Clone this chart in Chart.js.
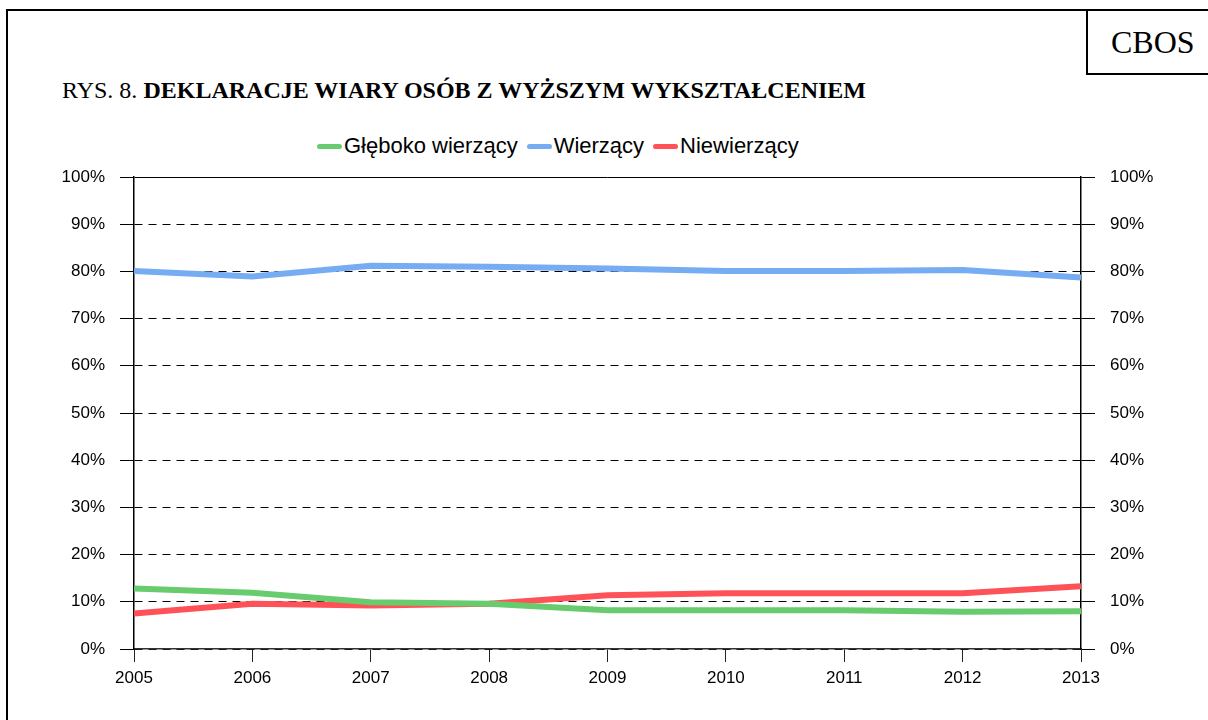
<!DOCTYPE html>
<html lang="pl">
<head>
<meta charset="utf-8">
<title>Deklaracje wiary osób z wyższym wykształceniem</title>
<script src="https://cdn.jsdelivr.net/npm/chart.js@4.4.1/dist/chart.umd.min.js"></script>
<style>
  html, body { margin: 0; padding: 0; background: #fff; }
  #page { position: relative; width: 1208px; height: 720px; overflow: hidden; }
  #frame {
    position: absolute; left: 6px; top: 9px; width: 1400px; height: 900px;
    border: 2px solid #000;
  }
  #cbos {
    position: absolute; left: 1086px; top: 9px; width: 200px; height: 66px;
    border-left: 2px solid #000; border-bottom: 2px solid #000;
    font: 32px "Liberation Serif", "Times New Roman", serif;
    line-height: 66px; padding-left: 23px; box-sizing: border-box;
  }
  #title {
    position: absolute; left: 62px; top: 77px;
    font: 24px "Liberation Serif", "Times New Roman", serif; color: #000;
    white-space: nowrap;
  }
  #title b { font-weight: bold; }
  #legend {
    position: absolute; left: 317px; top: 133px; display: flex; align-items: center;
    font: 22px "Liberation Sans", Arial, sans-serif; color: #000; white-space: nowrap;
  }
  #legend .item { display: flex; align-items: center; margin-right: 9px; }
  #legend .swatch { width: 25px; height: 5px; border-radius: 3px; margin-right: 2px; }
  canvas { position: absolute; left: 0; top: 0; }
</style>
</head>
<body>
<div id="page">
  <div id="frame"></div>
  <div id="cbos">CBOS</div>
  <div id="title">RYS. 8. <b>DEKLARACJE WIARY OSÓB Z WYŻSZYM WYKSZTAŁCENIEM</b></div>
  <div id="legend"></div>
  <canvas id="chart" width="1208" height="720"></canvas>
</div>
<script>
// Years on the x axis.
const years = ["2005", "2006", "2007", "2008", "2009", "2010", "2011", "2012", "2013"];

// Percent values.
const glebokoWierzacy = [12.8, 11.9, 9.9, 9.6, 8.2, 8.2, 8.2, 7.9, 8.0];
const wierzacy = [80.1, 78.9, 81.2, 81.0, 80.6, 80.1, 80.1, 80.3, 78.7];
const niewierzacy = [7.5, 9.6, 9.2, 9.6, 11.4, 11.8, 11.8, 11.8, 13.3];

const seriesNames = ["Głęboko wierzący", "Wierzący", "Niewierzący"];
const seriesColors = ["#68cc6e", "#75acf2", "#ff5258"];

// Axis range / ticks.
const yMin = 0;
const yMax = 100;
const yStep = 10;

const AXIS_FONT = { family: "'Liberation Sans', Arial, sans-serif", size: 17 };

// HTML legend, built from the series names/colors.
const legendEl = document.getElementById("legend");
seriesNames.forEach((name, i) => {
  const item = document.createElement("div");
  item.className = "item";
  const sw = document.createElement("span");
  sw.className = "swatch";
  sw.style.background = seriesColors[i];
  const txt = document.createElement("span");
  txt.textContent = name;
  item.appendChild(sw);
  item.appendChild(txt);
  legendEl.appendChild(item);
});

function lineDataset(i, data) {
  return {
    label: seriesNames[i],
    data,
    borderColor: seriesColors[i],
    backgroundColor: seriesColors[i],
    borderWidth: 6,
    pointRadius: 0,
    tension: 0,
    fill: false,
    yAxisID: "y",
  };
}

function yAxis(position, width) {
  const left = position === "left";
  return {
    position,
    min: yMin,
    max: yMax,
    afterFit: (s) => { s.width = width; },
    ticks: {
      stepSize: yStep,
      color: "#000",
      font: AXIS_FONT,
      padding: 15,
      callback: (v) => v + "%",
    },
    grid: {
      drawOnChartArea: left,
      color: "#000",
      lineWidth: 1,
      drawTicks: true,
      tickLength: 14,
      tickColor: "#000",
      tickWidth: 1,
    },
    border: {
      display: true,
      color: "#000",
      width: 1.5,
      // grid lines dashed, the axis line itself and the 100% line solid
      dash: (c) => (c.tick && c.tick.value !== yMax ? [8, 6] : []),
    },
  };
}

new Chart(document.getElementById("chart"), {
  type: "line",
  data: {
    labels: years,
    datasets: [
      lineDataset(0, glebokoWierzacy),
      lineDataset(1, wierzacy),
      lineDataset(2, niewierzacy),
    ],
  },
  options: {
    responsive: false,
    animation: false,
    layout: { padding: { top: 177, left: 0, right: 0, bottom: 0 } },
    plugins: {
      legend: { display: false },
      tooltip: { enabled: false },
    },
    scales: {
      x: {
        offset: false,
        afterFit: (s) => { s.height = 71; },
        ticks: {
          color: "#000",
          font: AXIS_FONT,
          padding: 6,
          maxRotation: 0,
          autoSkip: false,
        },
        grid: {
          drawOnChartArea: false,
          drawTicks: true,
          tickLength: 13,
          tickColor: "#222",
          tickWidth: 1,
        },
        border: { display: true, color: "#333", width: 1.5 },
      },
      y: yAxis("left", 134),
      y2: yAxis("right", 1208 - 1081),
    },
  },
});
</script>
</body>
</html>
